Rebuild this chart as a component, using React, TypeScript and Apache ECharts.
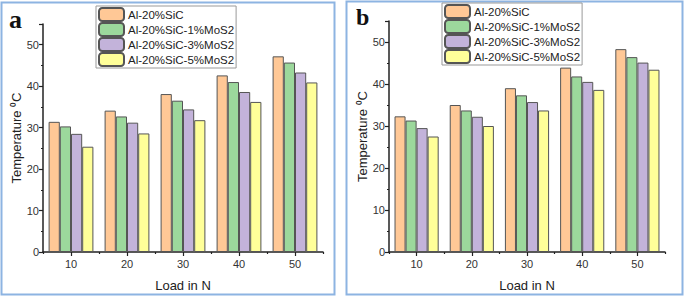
import React, { useEffect, useRef } from "react";
import * as echarts from "echarts";

const loads = ["10", "20", "30", "40", "50"];
const seriesNames = [
  "Al-20%SiC",
  "Al-20%SiC-1%MoS2",
  "Al-20%SiC-3%MoS2",
  "Al-20%SiC-5%MoS2",
];
const colors = ["#FFC896", "#9CD89C", "#C3B3DA", "#FFFF99"];

// Panel a
const aSiC = [31.4, 34.1, 38.1, 42.6, 47.2];
const a1MoS2 = [30.3, 32.7, 36.5, 41.0, 45.7];
const a3MoS2 = [28.5, 31.2, 34.4, 38.6, 43.3];
const a5MoS2 = [25.4, 28.6, 31.8, 36.2, 40.9];

// Panel b
const bSiC = [32.3, 35.0, 39.0, 43.9, 48.3];
const b1MoS2 = [31.3, 33.7, 37.3, 41.8, 46.4];
const b3MoS2 = [29.5, 32.2, 35.7, 40.5, 45.1];
const b5MoS2 = [27.5, 30.0, 33.7, 38.6, 43.4];

const yTicks = { min: 0, max: 55, interval: 10 };

export default function App() {
  const ref = useRef<HTMLDivElement>(null);

  useEffect(() => {
    if (!ref.current) return;
    const chart = echarts.init(ref.current, undefined, { renderer: "svg" });
    const font = "Arial, 'Liberation Sans', sans-serif";
    const axisColor = "#222";

    const makeY = (gridIndex: number, nameGap: number) => ({
      type: "value",
      gridIndex,
      min: yTicks.min,
      max: yTicks.max,
      interval: yTicks.interval,
      name: "Temperature \u2070C",
      nameLocation: "middle",
      nameGap,
      nameTextStyle: { fontSize: 13, color: "#222", fontFamily: font },
      axisLine: { show: true, lineStyle: { color: axisColor, width: 1.5 } },
      axisTick: { show: true, length: 4, lineStyle: { color: axisColor, width: 1.2 } },
      minorTick: { show: true, splitNumber: 2, length: 2, lineStyle: { color: axisColor } },
      axisLabel: {
        fontSize: 11,
        color: "#333",
        fontFamily: font,
        margin: 4,
        showMaxLabel: false,
      },
      splitLine: { show: false },
    });

    const makeX = (gridIndex: number) => ({
      type: "category",
      gridIndex,
      position: "bottom",
      data: loads,
      name: "Load in N",
      nameLocation: "middle",
      nameGap: 27,
      nameTextStyle: { fontSize: 13, color: "#222", fontFamily: font },
      axisLine: { show: true, onZero: false, lineStyle: { color: axisColor, width: 1.5 } },
      axisTick: { show: true, alignWithLabel: true, length: 4, lineStyle: { color: axisColor, width: 1.2 } },
      axisLabel: { fontSize: 11, color: "#333", fontFamily: font, margin: 6 },
    });

    const makeXMinor = (gridIndex: number) => ({
      type: "category",
      gridIndex,
      position: "bottom",
      data: loads,
      axisLine: { show: false },
      axisTick: { show: true, length: 2, lineStyle: { color: axisColor, width: 1.2 } },
      axisLabel: { show: false },
    });

    const panelA = [aSiC, a1MoS2, a3MoS2, a5MoS2];
    const panelB = [bSiC, b1MoS2, b3MoS2, b5MoS2];

    const makeSeries = (data: number[][], xAxisIndex: number, yAxisIndex: number) =>
      data.map((d, i) => ({
        type: "bar",
        name: seriesNames[i],
        xAxisIndex,
        yAxisIndex,
        data: d,
        barGap: "0%",
        barCategoryGap: "20%",
        itemStyle: { color: colors[i], borderColor: "#555", borderWidth: 1 },
      }));

    const makeLegend = (left: number, top: number) => ({
      orient: "vertical",
      left,
      top,
      data: seriesNames,
      itemWidth: 25,
      itemHeight: 13,
      itemGap: 0,
      padding: [1, 2, 1, 2],
      borderColor: "#999",
      borderWidth: 1,
      backgroundColor: "#fff",
      selectedMode: false,
      textStyle: {
        fontSize: 11.5,
        lineHeight: 13,
        color: "#222",
        fontFamily: font,
        padding: [0, 0, 0, -1],
      },
    });

    chart.setOption({
      animation: false,
      backgroundColor: "#fff",
      grid: [
        { left: 43, right: 362, top: 24, bottom: 40 },
        { left: 389, right: 20, top: 21, bottom: 40 },
      ],
      xAxis: [makeX(0), makeX(1), makeXMinor(0), makeXMinor(1)],
      yAxis: [makeY(0, 20), makeY(1, 20)],
      legend: [makeLegend(96, 6), makeLegend(442, 3)],
      series: [...makeSeries(panelA, 0, 0), ...makeSeries(panelB, 1, 1)],
      graphic: [
        {
          type: "rect",
          shape: { x: 1.5, y: 2.5, width: 333, height: 292 },
          style: { fill: "none", stroke: "#8DB4E2", lineWidth: 2 },
          silent: true,
        },
        {
          type: "rect",
          shape: { x: 346.5, y: 1.5, width: 336, height: 293 },
          style: { fill: "none", stroke: "#8DB4E2", lineWidth: 2 },
          silent: true,
        },
        {
          type: "text",
          left: 9,
          top: 6,
          style: {
            text: "a",
            font: "bold 26px 'Liberation Serif', 'Times New Roman', serif",
            fill: "#111",
          },
        },
        {
          type: "text",
          left: 356,
          top: 5,
          style: {
            text: "b",
            font: "bold 24px 'Liberation Serif', 'Times New Roman', serif",
            fill: "#111",
          },
        },
      ],
    });

    return () => chart.dispose();
  }, []);

  return (
    <div
      ref={ref}
      style={{ position: "fixed", left: 0, top: 0, width: 685, height: 297 }}
    />
  );
}
